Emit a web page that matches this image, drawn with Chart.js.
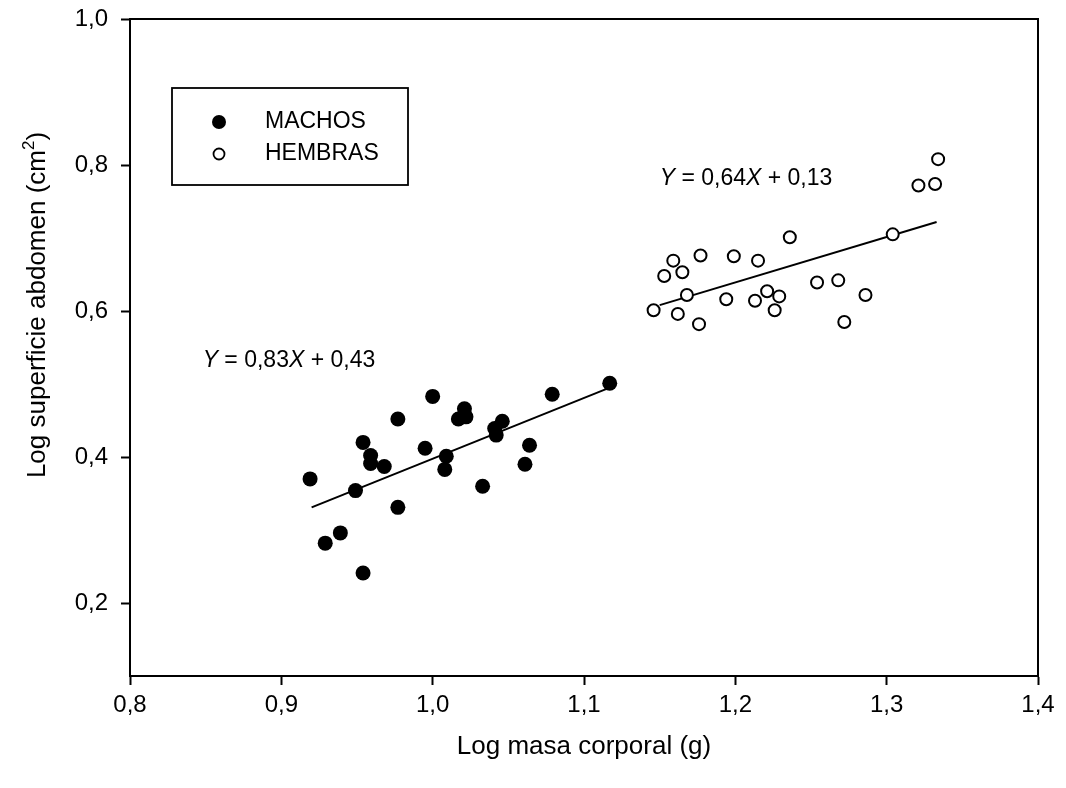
<!DOCTYPE html>
<html>
<head>
<meta charset="utf-8">
<script src="https://cdn.jsdelivr.net/npm/chart.js@4.4.1/dist/chart.umd.min.js"></script>
<style>
  html, body { margin: 0; padding: 0; background: #ffffff; }
  #wrap { width: 1066px; height: 788px; }
</style>
</head>
<body>
<div id="wrap"><canvas id="c" width="1066" height="788"></canvas></div>
<script>
// Axis ticks
const xTicks = [0.8, 0.9, 1.0, 1.1, 1.2, 1.3, 1.4];
const yTicks = [0.2, 0.4, 0.6, 0.8, 1.0];

// MACHOS (log body mass, log abdomen surface)
const machosX = [0.919, 1.000, 1.021, 1.017, 1.022, 0.977, 1.079, 1.117, 0.954, 0.959, 0.959, 0.968, 0.995,
                 1.009, 1.008, 1.041, 1.046, 1.042, 1.064, 1.061, 1.033, 0.949, 0.977, 0.939, 0.929, 0.954];
const machosY = [0.370, 0.483, 0.466, 0.452, 0.455, 0.452, 0.486, 0.501, 0.420, 0.402, 0.391, 0.387, 0.412,
                 0.401, 0.383, 0.439, 0.449, 0.430, 0.416, 0.390, 0.360, 0.354, 0.331, 0.296, 0.282, 0.241];

// HEMBRAS
const hembrasX = [1.334, 1.321, 1.332, 1.304, 1.236, 1.159, 1.177, 1.199, 1.215, 1.153, 1.165, 1.168,
                  1.146, 1.162, 1.176, 1.194, 1.213, 1.221, 1.229, 1.226, 1.254, 1.268, 1.286, 1.272];
const hembrasY = [0.808, 0.772, 0.774, 0.705, 0.701, 0.669, 0.676, 0.675, 0.669, 0.648, 0.653, 0.622,
                  0.601, 0.596, 0.582, 0.616, 0.614, 0.627, 0.620, 0.601, 0.639, 0.642, 0.622, 0.585];

// Fitted regression segments (end points)
const fitMachosX = [0.920, 1.117];
const fitMachosY = [0.331, 0.495];
const fitHembrasX = [1.150, 1.333];
const fitHembrasY = [0.608, 0.722];

// Regression equations: text parts (italic flag) and anchor in data units
const eqMachos = { x: 0.848, y: 0.523, parts: [['Y', true], [' = 0,83', false], ['X', true], [' + 0,43', false]] };
const eqHembras = { x: 1.150, y: 0.772, parts: [['Y', true], [' = 0,64', false], ['X', true], [' + 0,13', false]] };

const legendLabels = ['MACHOS', 'HEMBRAS'];
const yTitle = ['Log superficie abdomen (cm', '2', ')'];

const FONT = "'Liberation Sans', Arial, Helvetica, sans-serif";
const toPts = (xs, ys) => xs.map((v, i) => ({ x: v, y: ys[i] }));
const fmt = v => Number(v).toFixed(1).replace('.', ',');

const overlay = {
  id: 'overlay',
  afterDatasetsDraw(chart) {
    const { ctx, chartArea: a, scales: { x, y } } = chart;
    ctx.save();
    // frame around the plot area
    ctx.strokeStyle = '#000';
    ctx.lineWidth = 2;
    ctx.strokeRect(a.left, a.top, a.right - a.left, a.bottom - a.top);

    // legend box
    const lx = a.left + 42, ly = a.top + 69, lw = 236, lh = 97;
    ctx.lineWidth = 1.8;
    ctx.strokeRect(lx, ly, lw, lh);
    ctx.font = '23px ' + FONT;
    ctx.fillStyle = '#000';
    ctx.textBaseline = 'middle';
    ctx.textAlign = 'left';
    ctx.beginPath();
    ctx.arc(lx + 47, ly + 34, 7, 0, Math.PI * 2);
    ctx.fill();
    ctx.fillText(legendLabels[0], lx + 93, ly + 34);
    ctx.beginPath();
    ctx.arc(lx + 47, ly + 66, 5.5, 0, Math.PI * 2);
    ctx.fillStyle = '#fff';
    ctx.fill();
    ctx.lineWidth = 1.8;
    ctx.strokeStyle = '#000';
    ctx.stroke();
    ctx.fillStyle = '#000';
    ctx.fillText(legendLabels[1], lx + 93, ly + 66);

    // regression equations
    ctx.textBaseline = 'alphabetic';
    [eqMachos, eqHembras].forEach(eq => {
      let px = x.getPixelForValue(eq.x);
      const py = y.getPixelForValue(eq.y);
      eq.parts.forEach(([t, it]) => {
        ctx.font = (it ? 'italic ' : '') + '23px ' + FONT;
        ctx.fillText(t, px, py);
        px += ctx.measureText(t).width;
      });
    });

    // vertical axis title with superscript
    ctx.save();
    ctx.translate(a.left - 92, 305);
    ctx.rotate(-Math.PI / 2);
    ctx.textBaseline = 'middle';
    const main = '26px ' + FONT, sup = '17px ' + FONT;
    ctx.font = main;
    const w0 = ctx.measureText(yTitle[0]).width, w2 = ctx.measureText(yTitle[2]).width;
    ctx.font = sup;
    const w1 = ctx.measureText(yTitle[1]).width;
    let tx = -(w0 + w1 + w2) / 2;
    ctx.font = main;
    ctx.fillText(yTitle[0], tx, 0); tx += w0;
    ctx.font = sup;
    ctx.fillText(yTitle[1], tx, -9); tx += w1;
    ctx.font = main;
    ctx.fillText(yTitle[2], tx, 0);
    ctx.restore();

    ctx.restore();
  }
};

new Chart(document.getElementById('c'), {
  type: 'scatter',
  data: {
    datasets: [
      {
        label: legendLabels[0],
        data: toPts(machosX, machosY),
        pointRadius: 7.5,
        pointBackgroundColor: '#000',
        pointBorderColor: '#000',
        pointBorderWidth: 0,
        order: 1
      },
      {
        label: legendLabels[1],
        data: toPts(hembrasX, hembrasY),
        pointRadius: 6,
        pointBackgroundColor: '#fff',
        pointBorderColor: '#000',
        pointBorderWidth: 2,
        order: 1
      },
      {
        type: 'line',
        label: 'ajuste machos',
        data: toPts(fitMachosX, fitMachosY),
        borderColor: '#000',
        borderWidth: 2,
        pointRadius: 0,
        fill: false,
        order: 3
      },
      {
        type: 'line',
        label: 'ajuste hembras',
        data: toPts(fitHembrasX, fitHembrasY),
        borderColor: '#000',
        borderWidth: 2,
        pointRadius: 0,
        fill: false,
        order: 3
      }
    ]
  },
  options: {
    responsive: false,
    animation: false,
    events: [],
    layout: { padding: { top: 19, right: 28, bottom: 0, left: 0 } },
    plugins: {
      legend: { display: false },
      tooltip: { enabled: false }
    },
    scales: {
      x: {
        type: 'linear',
        min: 0.8,
        max: 1.4,
        afterBuildTicks: s => { s.ticks = xTicks.map(v => ({ value: v })); },
        afterFit: s => { s.height = 112; s.paddingLeft = 0; s.paddingRight = 0; },
        ticks: {
          callback: v => fmt(v),
          font: { family: FONT, size: 24 },
          color: '#000',
          padding: 6,
          maxRotation: 0,
          autoSkip: false
        },
        grid: { display: true, drawOnChartArea: false, drawTicks: true, tickLength: 9, tickWidth: 2, tickColor: '#000' },
        border: { display: true, color: '#000', width: 2 },
        title: {
          display: true,
          text: 'Log masa corporal (g)',
          font: { family: FONT, size: 26 },
          color: '#000',
          padding: { top: 0, bottom: 26 }
        }
      },
      y: {
        type: 'linear',
        min: 0.1,
        max: 1.0,
        afterBuildTicks: s => { s.ticks = yTicks.map(v => ({ value: v })); },
        afterFit: s => { s.width = 130; s.paddingTop = 0; s.paddingBottom = 0; },
        ticks: {
          callback: v => fmt(v),
          font: { family: FONT, size: 24 },
          color: '#000',
          padding: 13
        },
        grid: { display: true, drawOnChartArea: false, drawTicks: true, tickLength: 9, tickWidth: 2, tickColor: '#000' },
        border: { display: true, color: '#000', width: 2 },
        title: { display: false }
      }
    }
  },
  plugins: [overlay]
});
</script>
</body>
</html>
